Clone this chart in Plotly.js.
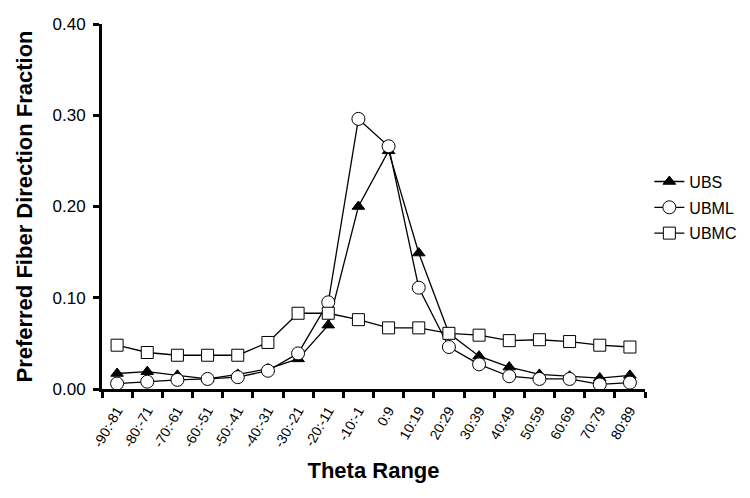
<!DOCTYPE html>
<html>
<head>
<meta charset="utf-8">
<script src="https://cdn.plot.ly/plotly-3.0.1.min.js"></script>
<style>html,body{margin:0;padding:0;background:#fff;}#chart{width:750px;height:498px;}</style>
</head>
<body>
<div id="chart"></div>
<script>
const categories = ["-90:-81","-80:-71","-70:-61","-60:-51","-50:-41","-40:-31","-30:-21","-20:-11","-10:-1","0:9","10:19","20:29","30:39","40:49","50:59","60:69","70:79","80:89"];
const ubs  = [0.017,0.019,0.015,0.011,0.016,0.022,0.033,0.070,0.200,0.261,0.149,0.061,0.036,0.024,0.016,0.014,0.012,0.015];
const ubml = [0.006,0.008,0.010,0.011,0.013,0.020,0.039,0.095,0.296,0.266,0.111,0.046,0.027,0.014,0.011,0.011,0.005,0.007];
const ubmc = [0.048,0.040,0.037,0.037,0.037,0.051,0.083,0.083,0.076,0.067,0.067,0.061,0.059,0.053,0.054,0.052,0.048,0.046];
const yTicks = [0, 0.1, 0.2, 0.3, 0.4];

const line = {color: "#000", width: 1.3};
const traces = [
  {x: categories, y: ubs, name: "UBS", mode: "lines+markers", type: "scatter", legendgroup: "a",
   line: line, marker: {symbol: "triangle-up", size: 11, color: "#000", line: {color: "#000", width: 1}}},
  {x: categories, y: ubml, name: "UBML", mode: "lines+markers", type: "scatter", legendgroup: "b",
   line: line, marker: {symbol: "circle", size: 13, color: "#fff", line: {color: "#000", width: 1}}},
  {x: categories, y: ubmc, name: "UBMC", mode: "lines+markers", type: "scatter", legendgroup: "c",
   line: line, marker: {symbol: "square", size: 12, color: "#fff", line: {color: "#000", width: 1}}}
];

const layout = {
  width: 750, height: 498,
  margin: {l: 102, r: 105, t: 24, b: 109, autoexpand: false},
  paper_bgcolor: "#fff", plot_bgcolor: "#fff",
  font: {family: "Liberation Sans, Arial, sans-serif", color: "#000"},
  showlegend: true,
  legend: {x: 1.008, y: 0.497, xanchor: "left", yanchor: "middle", font: {size: 16}, tracegroupgap: 2, itemwidth: 30},
  xaxis: {
    type: "category", range: [-0.5, categories.length - 0.5], tickson: "boundaries",
    showline: true, linecolor: "#000", linewidth: 3,
    ticks: "outside", ticklen: 6, tickwidth: 3, tickcolor: "#000", showgrid: false, zeroline: false,
    tickangle: -60, tickfont: {size: 14}, ticklabelstandoff: 5,
    title: {text: "<b>Theta Range</b>", font: {size: 22}, standoff: 14}
  },
  yaxis: {
    range: [0, 0.4], tickvals: yTicks, tickformat: ".2f", showline: true, linecolor: "#000", linewidth: 3,
    ticks: "outside", ticklen: 6, tickwidth: 3, tickcolor: "#000", showgrid: false, zeroline: false,
    tickfont: {size: 17}, ticklabelstandoff: 4,
    title: {text: "<b>Preferred Fiber Direction Fraction</b>", font: {size: 22}, standoff: 14}
  }
};

Plotly.newPlot("chart", traces, layout, {displayModeBar: false, staticPlot: true});
</script>
</body>
</html>
